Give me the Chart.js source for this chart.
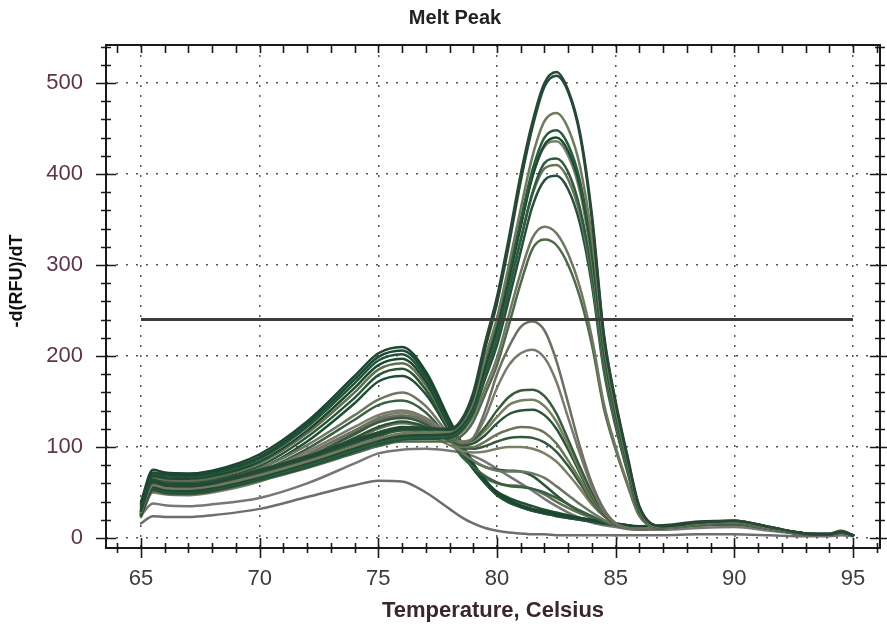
<!DOCTYPE html>
<html>
<head>
<meta charset="utf-8">
<title>Melt Peak</title>
<script src="https://cdn.jsdelivr.net/npm/chart.js@4.4.1/dist/chart.umd.min.js"></script>
<style>
  body { margin: 0; background: #fff; }
  #wrap { width: 887px; height: 635px; }
</style>
</head>
<body>
<div id="wrap"><canvas id="myChart" width="887" height="635"></canvas></div>
<script>
// temperatures the curves were read at
const temps = [65,65.5,66,67,68,70,72,74,75,76,77,78,78.5,79,79.5,80,80.5,81,81.5,82,82.5,83,83.5,84,84.5,85,85.5,86,87,88.5,90,91.5,93,94,94.5,95];

const xTickValues = [65,70,75,80,85,90,95];
const yTickValues = [0,100,200,300,400,500];
const thresholdTemps = [65,95];
const thresholdValue = 240;

// wells with a tall product peak around 82 C
const r1  = [30,62,58,57,60,73,88,106,114,120,120,120,130,160,215,265,330,400,458,500,512,492,445,355,225,150,90,35,13,17,19,12,5,4,7,3];
const r2  = [33,64,60,59,62,75,90,108,116,122,121,119,128,155,208,258,322,392,452,496,508,490,442,350,222,148,88,34,13,17,19,12,5,4,7,3];
const r3  = [28,58,55,54,57,69,84,101,109,115,116,117,126,150,198,242,300,362,420,458,467,450,408,330,215,142,84,32,12,16,18,11,5,4,7,3];
const r4  = [29,60,56,55,58,71,86,104,112,118,118,118,127,152,196,238,292,350,405,440,448,432,392,318,208,138,82,31,12,16,18,11,5,4,7,3];
const r5  = [27,56,53,52,55,67,82,99,107,112,113,114,123,146,188,230,284,342,398,432,440,425,386,312,205,136,80,30,12,16,18,11,5,4,7,3];
const r6  = [31,63,59,58,61,74,89,107,115,121,120,119,128,154,198,238,290,345,398,430,436,420,380,305,200,133,78,30,12,16,18,11,5,4,7,3];
const r7  = [26,55,52,51,54,66,80,97,105,110,111,112,120,142,180,220,272,328,380,412,417,402,362,292,192,128,76,29,12,16,18,11,5,4,6,3];
const r8  = [28,57,54,53,56,69,84,101,109,114,114,115,123,146,185,224,274,328,378,406,410,394,355,285,188,125,74,28,12,15,17,11,5,4,6,3];
const r9  = [25,53,50,49,52,64,78,95,103,108,109,110,118,138,175,212,262,315,365,393,398,383,345,278,184,122,72,28,12,15,17,11,5,4,6,3];
const r10 = [27,56,53,52,55,68,83,100,108,113,112,110,116,134,165,198,245,292,330,342,335,312,275,220,148,100,60,25,11,15,17,10,5,4,6,3];
const r11 = [24,52,49,48,51,63,77,93,101,106,106,106,112,128,158,190,234,280,318,328,322,300,264,212,143,97,58,24,11,15,17,10,5,4,6,3];

// wells with a medium peak near 81.5 C
const q1  = [28,58,56,55,58,70,92,118,130,135,128,110,104,110,140,180,210,232,238,228,195,148,100,60,32,16,11,10,12,16,17,11,5,4,7,3];
const q2  = [30,60,58,57,60,72,95,122,135,140,132,113,106,110,132,165,190,203,207,198,172,132,92,56,30,16,11,10,12,16,17,11,5,4,7,3];
const q3  = [26,55,53,52,55,67,88,114,127,132,126,110,104,108,122,140,155,162,163,156,137,108,78,50,29,16,11,10,11,15,16,10,5,4,6,3];
const q4  = [27,57,55,54,57,69,91,118,132,138,130,112,105,107,118,133,146,151,152,145,128,102,74,48,28,16,11,10,11,15,16,10,5,4,6,3];
const q5  = [25,53,51,50,53,65,86,110,122,128,122,108,102,104,113,126,136,140,141,135,120,97,71,46,27,15,11,10,11,15,16,10,5,4,6,3];
const q6  = [24,52,50,49,52,64,84,108,120,126,120,106,100,100,106,114,119,122,121,116,104,85,64,42,26,15,11,10,11,15,16,10,5,4,6,3];
const q7  = [26,54,52,51,54,66,88,115,128,133,125,108,100,98,101,106,110,111,110,105,95,79,60,40,25,15,11,10,11,14,15,10,5,4,6,3];
const q8  = [23,50,48,47,50,62,82,104,116,120,114,102,96,94,95,98,100,100,98,93,84,70,54,37,24,15,11,10,11,14,15,10,5,4,6,3];
const q9  = [30,62,60,59,62,76,102,135,152,160,145,112,95,85,78,74,73,73,71,66,57,47,37,28,20,14,11,10,11,14,15,10,5,4,6,3];
const q10 = [29,60,58,57,60,73,98,130,146,151,138,108,90,78,68,61,57,56,54,50,44,37,30,24,18,14,11,10,11,14,15,10,5,4,6,3];

// wells dominated by the low (primer dimer) peak near 76 C
const p1 = [40,75,72,71,74,92,128,178,203,210,183,130,105,82,64,50,42,36,32,29,26,24,22,20,18,16,14,13,14,18,19,12,5,5,8,3];
const p2 = [36,72,70,69,72,89,125,174,199,206,180,128,103,80,62,49,41,35,31,28,25,23,21,19,17,15,14,12,13,17,18,11,5,4,7,3];
const p3 = [38,70,68,67,70,87,122,170,195,202,176,125,101,78,61,48,40,34,30,27,25,22,20,18,16,15,13,12,13,16,18,11,5,4,7,3];
const p4 = [34,68,66,65,68,84,118,165,190,197,172,122,98,76,60,47,39,34,30,27,24,22,20,18,16,14,13,12,12,16,17,10,5,4,6,3];
const p5 = [32,66,64,63,66,82,115,160,185,192,168,120,97,78,66,60,58,57,54,48,40,33,27,22,18,15,13,11,12,15,16,10,4,4,6,3];
const p6 = [30,64,62,61,64,79,111,154,179,186,163,118,98,85,78,75,74,73,68,58,47,37,29,23,18,15,13,11,12,15,16,10,4,4,6,3];
const p7 = [28,62,60,59,62,76,106,148,172,178,158,116,94,76,62,51,44,39,35,31,28,25,22,20,18,16,14,12,12,15,16,10,4,4,6,3];

// two weak wells
const g1 = [25,38,36,35,37,44,60,82,93,97,98,96,94,90,84,76,68,60,52,43,35,28,22,17,14,12,10,9,9,11,12,8,4,3,5,2];
const g2 = [16,24,23,23,25,32,45,58,63,62,50,32,23,16,11,8,6,5,4,4,3,3,3,3,3,3,3,3,3,4,4,3,2,2,3,2];

const curves = [
  [r1,'#2a4636'],[r2,'#1f4d35'],[r3,'#6f7a5e'],[r4,'#2b5a3c'],[r5,'#1d4a33'],[r6,'#76806a'],
  [r7,'#2f5a3e'],[r8,'#6a7458'],[r9,'#225038'],[r10,'#707862'],[r11,'#4e6a4a'],
  [q1,'#6e6e64'],[q2,'#7a7a6c'],[q3,'#3a5a40'],[q4,'#74805f'],[q5,'#2c5338'],
  [q6,'#6b7659'],[q7,'#35573d'],[q8,'#7a8066'],[q9,'#6c7660'],[q10,'#3b5f42'],
  [p1,'#1b4630'],[p2,'#1e4b33'],[p3,'#24523a'],[p4,'#1c4932'],[p5,'#5f7050'],[p6,'#2a553a'],[p7,'#1f4e35'],
  [g1,'#777777'],[g2,'#6e6e6e']
];

const toPoints = (xs, ys) => ys.map((v, i) => ({x: xs[i], y: v}));

const datasets = [{
  data: toPoints(thresholdTemps, [thresholdValue, thresholdValue]),
  borderColor: '#3d3d3d',
  borderWidth: 3,
  pointRadius: 0
}];
curves.forEach(([vals, col]) => {
  datasets.push({
    data: toPoints(temps, vals),
    borderColor: col,
    borderWidth: 2.5,
    pointRadius: 0,
    cubicInterpolationMode: 'monotone',
    borderJoinStyle: 'round',
    borderCapStyle: 'round'
  });
});

const fontFam = "'Liberation Sans', Arial, sans-serif";

// white page, box frame, cross ticks, title and the rotated y title
const framePlugin = {
  id: 'frame',
  beforeDraw(chart) {
    const ctx = chart.ctx;
    ctx.save();
    ctx.fillStyle = '#fff';
    ctx.fillRect(0, 0, chart.width, chart.height);
    ctx.restore();
  },
  afterDraw(chart) {
    const {ctx, chartArea: a, scales: {x, y}} = chart;
    ctx.save();
    ctx.strokeStyle = '#1a1a1a';
    ctx.lineWidth = 2;
    ctx.strokeRect(a.left, a.top, a.right - a.left, a.bottom - a.top);
    ctx.lineWidth = 1.6;
    ctx.beginPath();
    for (let v = 64; v <= 96; v++) {
      const px = Math.round(x.getPixelForValue(v)) + 0.5;
      const l = v % 5 === 0 ? 10 : 5;
      ctx.moveTo(px, a.bottom - l); ctx.lineTo(px, a.bottom + l);
      ctx.moveTo(px, a.top); ctx.lineTo(px, a.top + 8);
    }
    for (let v = 0; v <= 540; v += 20) {
      const py = Math.round(y.getPixelForValue(v)) + 0.5;
      const l = v % 100 === 0 ? 10 : 5;
      ctx.moveTo(a.left - l, py); ctx.lineTo(a.left + l, py);
      ctx.moveTo(a.right - l, py); ctx.lineTo(a.right + l, py);
    }
    ctx.stroke();

    ctx.fillStyle = '#222';
    ctx.font = "bold 20px " + fontFam;
    ctx.textAlign = 'center';
    ctx.textBaseline = 'middle';
    ctx.fillText('Melt Peak', 455, 18);

    ctx.translate(17, 281);
    ctx.rotate(-Math.PI / 2);
    ctx.fillStyle = '#111';
    ctx.font = "bold 18px " + fontFam;
    ctx.fillText('-d(RFU)/dT', 0, 0);
    ctx.restore();
  }
};

const grid = {
  color: '#555',
  lineWidth: 1.5,
  drawTicks: false
};
const border = { display: false, dash: [2, 8] };

new Chart(document.getElementById('myChart'), {
  type: 'line',
  data: { datasets: datasets },
  options: {
    responsive: false,
    animation: false,
    layout: { padding: { top: 45, right: 7, left: 0, bottom: 0 } },
    plugins: {
      legend: { display: false },
      tooltip: { enabled: false },
      title: { display: false }
    },
    scales: {
      x: {
        type: 'linear',
        min: 63.525,
        max: 96.138,
        afterBuildTicks: s => { s.ticks = xTickValues.map(v => ({value: v})); },
        afterFit: s => { s.height = 87; },
        grid: grid,
        border: border,
        ticks: {
          color: '#3c3c3c',
          padding: 18,
          maxRotation: 0,
          font: { family: fontFam, size: 22 }
        },
        title: {
          display: true,
          text: 'Temperature, Celsius',
          color: '#3a2530',
          font: { family: fontFam, size: 22, weight: 'bold' },
          padding: { top: 0, bottom: 11 }
        }
      },
      y: {
        min: -10.99,
        max: 541.76,
        afterBuildTicks: s => { s.ticks = yTickValues.map(v => ({value: v})); },
        afterFit: s => { s.width = 106; },
        grid: grid,
        border: border,
        ticks: {
          color: '#5e3448',
          padding: 23,
          font: { family: fontFam, size: 22 }
        }
      }
    }
  },
  plugins: [framePlugin]
});
</script>
</body>
</html>
